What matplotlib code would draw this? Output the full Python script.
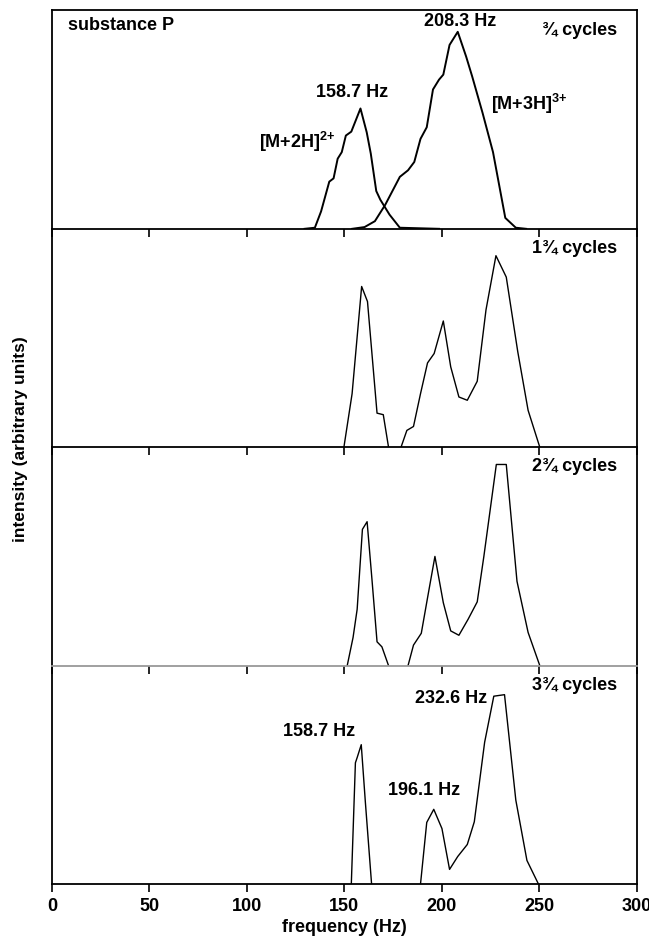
import matplotlib
matplotlib.use("Agg")
import matplotlib.pyplot as plt
import numpy as np

nan = np.nan

# panel 1: two charge states, frequency (Hz) / intensity (fraction of panel)
p1_2h_freq = [129.6, 134.9, 138.1, 142.3, 144.5, 146.6, 148.7, 150.8, 153.6,
              158.3, 161.5, 163.6, 166.4, 168.5, 173.2, 178.5, 198.6]
p1_2h_int = [0.0, 0.005, 0.08, 0.216, 0.231, 0.321, 0.351, 0.427, 0.445,
             0.551, 0.442, 0.344, 0.173, 0.133, 0.065, 0.005, 0.0]
p1_3h_freq = [154.0, 160.4, 165.7, 171.0, 178.5, 182.7, 185.9, 189.1, 192.3,
              195.5, 198.6, 200.8, 204.0, 208.2, 212.5, 215.6, 220.9, 226.3,
              232.6, 238.0, 243.3]
p1_3h_int = [0.0, 0.008, 0.035, 0.11, 0.238, 0.268, 0.306, 0.412, 0.465,
             0.638, 0.683, 0.706, 0.842, 0.902, 0.789, 0.698, 0.532, 0.351,
             0.05, 0.005, 0.0]

# panels 2-4 (gaps where the trace is absent)
p2_freq = [149.8, 154.0, 158.9, 161.9, 166.8, 170.0, 172.7, nan,
           179.1, 182.1, 185.5, 189.1, 192.7, 196.1, 200.8, 204.6, 208.8,
           213.1, 218.2, 222.7, 227.8, 233.1, 239.0, 244.3, 250.3]
p2_int = [0.0, 0.245, 0.736, 0.667, 0.156, 0.149, 0.0, nan,
          0.0, 0.077, 0.095, 0.245, 0.386, 0.429, 0.578, 0.368, 0.23,
          0.215, 0.302, 0.629, 0.877, 0.779, 0.437, 0.169, 0.0]

p3_freq = [151.5, 154.5, 156.6, 159.3, 161.7, 164.2, 166.8, 169.3, 172.7, nan,
           182.7, 185.5, 189.5, 192.7, 196.5, 200.8, 204.6, 208.8, 213.5,
           218.2, 221.6, 228.0, 233.1, 238.6, 244.3, 250.3]
p3_int = [0.0, 0.129, 0.258, 0.624, 0.659, 0.394, 0.109, 0.086, 0.0, nan,
          0.0, 0.094, 0.148, 0.31, 0.5, 0.288, 0.159, 0.139, 0.212,
          0.292, 0.5, 0.921, 0.921, 0.386, 0.152, 0.0]

p4_freq = [153.6, 155.7, 156.6, 158.7, 160.8, 164.0, nan,
           189.1, 192.3, 195.9, 200.1, 204.0, 208.2, 213.1, 216.7, 222.0,
           226.7, 232.2, 238.0, 243.7, 249.6]
p4_int = [0.0, 0.555, 0.579, 0.638, 0.376, 0.0, nan,
          0.0, 0.282, 0.342, 0.254, 0.067, 0.126, 0.181, 0.285, 0.649,
          0.86, 0.867, 0.384, 0.108, 0.0]

cycle_labels = ["\u00be cycles", "1\u00be cycles", "2\u00be cycles",
                "3\u00be cycles"]
x_ticks = [0, 50, 100, 150, 200, 250, 300]

FS = 13


def style_panel(ax, idx, n):
    """
    Common look for every stacked panel
    """
    ax.set_xlim(0, 300)
    ax.set_ylim(0, 1)
    ax.set_yticks([])
    ax.patch.set_visible(False)
    for side in ["left", "right", "bottom", "top"]:
        ax.spines[side].set_linewidth(1.3)
        ax.spines[side].set_color("black")
    if idx > 0:
        ax.spines["top"].set_visible(False)
    if idx == 2:
        ax.spines["bottom"].set_color("#999999")
    ax.set_xticks(x_ticks)
    ax.tick_params(axis="x", direction="out", length=6, width=1.2,
                   labelsize=FS, pad=4, labelbottom=(idx == n - 1))
    ax.text(290, 0.91, cycle_labels[idx], ha="right", va="center",
            fontsize=FS, fontweight="bold")


def main():
    plt.rcParams["font.family"] = ["Liberation Sans", "DejaVu Sans"]
    plt.rcParams["font.weight"] = "bold"
    plt.rcParams["mathtext.fontset"] = "custom"
    plt.rcParams["mathtext.rm"] = "Liberation Sans:bold"
    plt.rcParams["mathtext.default"] = "rm"

    fig = plt.figure(figsize=(6.49, 9.47), dpi=100)
    gs = fig.add_gridspec(4, 1, left=0.080, right=0.981, top=0.989,
                          bottom=0.0665, hspace=0)
    axes = [fig.add_subplot(gs[i]) for i in range(4)]

    axes[0].plot(p1_2h_freq, p1_2h_int, color="black", lw=1.4)
    axes[0].plot(p1_3h_freq, p1_3h_int, color="black", lw=1.4)
    axes[1].plot(p2_freq, p2_int, color="black", lw=1.0)
    axes[2].plot(p3_freq, p3_int, color="black", lw=1.0)
    axes[3].plot(p4_freq, p4_int, color="black", lw=1.0)

    for i, ax in enumerate(axes):
        style_panel(ax, i, len(axes))
        ax.set_zorder(len(axes) - i)

    t = dict(fontsize=FS, fontweight="bold", ha="center", va="center")
    axes[0].text(8.5, 0.93, "substance P", fontsize=FS, fontweight="bold",
                 ha="left", va="center")
    axes[0].text(209.5, 0.95, "208.3 Hz", **t)
    axes[0].text(154, 0.623, "158.7 Hz", **t)
    axes[0].text(125.8, 0.397, "[M+2H]$^{2{+}}$", **t)
    axes[0].text(244.8, 0.57, "[M+3H]$^{3{+}}$", **t)
    axes[3].text(137, 0.70, "158.7 Hz", **t)
    axes[3].text(191, 0.43, "196.1 Hz", **t)
    axes[3].text(205, 0.85, "232.6 Hz", **t)

    fig.text(0.08 + 0.901 / 2, 0.012, "frequency (Hz)", ha="center",
             va="bottom", fontsize=FS, fontweight="bold")
    fig.text(0.032, 0.536, "intensity (arbitrary units)", rotation=90,
             ha="center", va="center", fontsize=12.5, fontweight="bold")

    fig.savefig("out.png", dpi=100)


if __name__ == '__main__':
    main()
